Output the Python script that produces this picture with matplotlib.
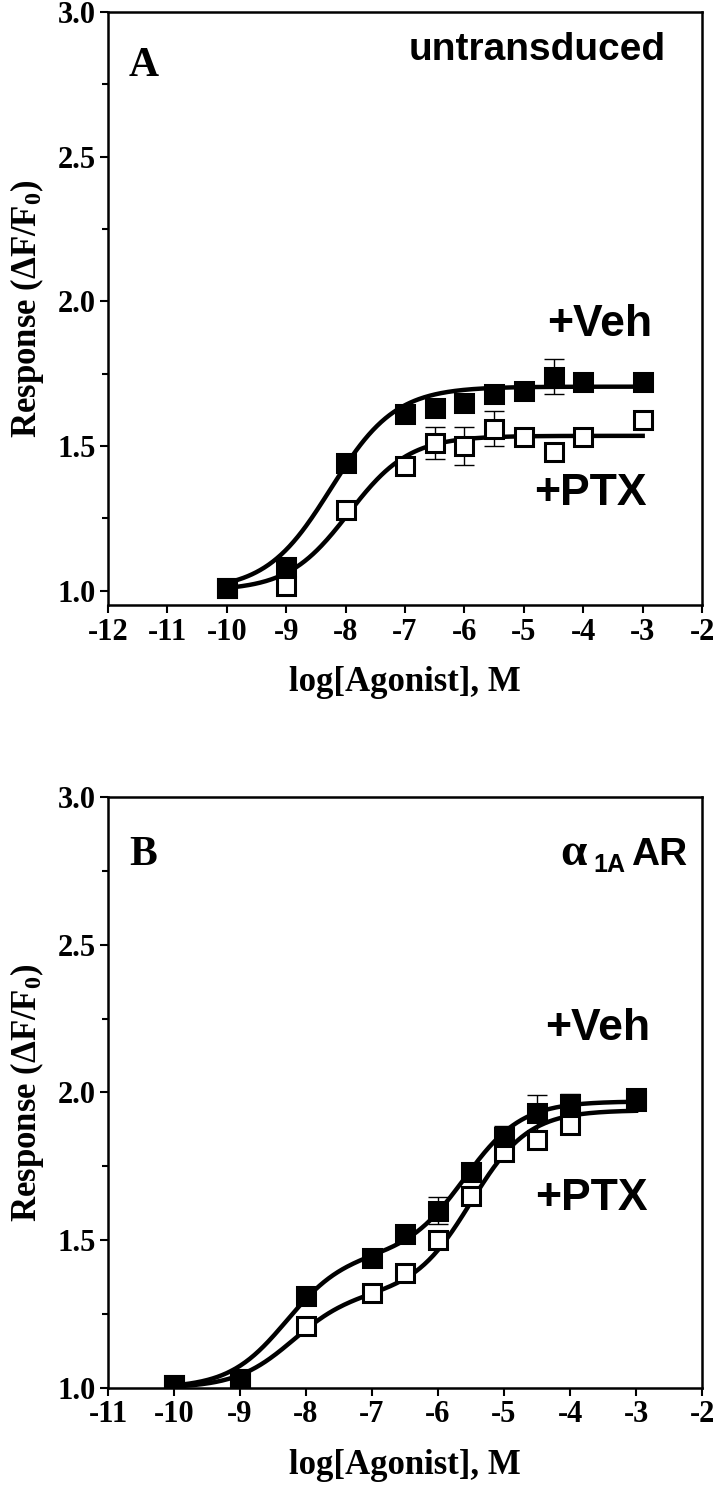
import numpy as np
import matplotlib.pyplot as plt

plt.rcParams['font.family'] = 'Liberation Serif'
plt.rcParams['font.weight'] = 'bold'
plt.rcParams['axes.labelweight'] = 'bold'
plt.rcParams['axes.unicode_minus'] = False
plt.rcParams['mathtext.fontset'] = 'custom'
plt.rcParams['mathtext.rm'] = 'Liberation Serif:bold'
plt.rcParams['mathtext.it'] = 'Liberation Serif:bold'
plt.rcParams['mathtext.bf'] = 'Liberation Serif:bold'

# log[Agonist] doses
dose = [-10, -9, -8, -7, -6.5, -6, -5.5, -5, -4.5, -4, -3]

# panel A - untransduced
veh_a = [1.01, 1.08, 1.44, 1.61, 1.63, 1.65, 1.68, 1.69, 1.74, 1.72, 1.72]
veh_a_err = [0.01, 0.01, 0.01, 0.01, 0.02, 0.02, 0.02, 0.01, 0.06, 0.01, 0.01]
ptx_a = [1.01, 1.015, 1.28, 1.43, 1.51, 1.50, 1.56, 1.53, 1.48, 1.53, 1.59]
ptx_a_err = [0.01, 0.01, 0.01, 0.02, 0.055, 0.065, 0.06, 0.02, 0.02, 0.01, 0.01]

# panel B - alpha1A AR
veh_b = [1.01, 1.03, 1.31, 1.44, 1.52, 1.60, 1.73, 1.85, 1.93, 1.96, 1.97]
veh_b_err = [0.01, 0.01, 0.01, 0.01, 0.01, 0.045, 0.01, 0.035, 0.06, 0.035, 0.02]
ptx_b = [1.01, 1.03, 1.21, 1.32, 1.39, 1.50, 1.65, 1.80, 1.84, 1.89, 1.98]
ptx_b_err = [0.01, 0.01, 0.01, 0.01, 0.01, 0.01, 0.02, 0.03, 0.01, 0.01, 0.02]

# fitted curve parameters
# one site: bottom, top, logEC50, hill
fit_veh_a = [1.0, 1.705, -8.25, 0.8]
fit_ptx_a = [1.0, 1.535, -7.95, 0.85]
# two site: bottom, span1, logEC50_1, span2, logEC50_2
fit_veh_b = [1.0, 0.45, -8.3, 0.52, -5.6]
fit_ptx_b = [1.0, 0.32, -8.2, 0.62, -5.5]


def one_site(x, p):
    b, t, ec, h = p
    return b + (t - b) / (1 + 10 ** (h * (ec - x)))


def two_site(x, p):
    b, s1, e1, s2, e2 = p
    return b + s1 / (1 + 10 ** (e1 - x)) + s2 / (1 + 10 ** (e2 - x))


xs = np.linspace(-10, -3, 300)

fig = plt.figure(figsize=(7.14, 14.87), dpi=100)
ax_a = fig.add_axes([0.1513, 0.5931, 0.832, 0.3988])
ax_b = fig.add_axes([0.1513, 0.0666, 0.832, 0.3974])


def draw(ax, veh, veh_err, ptx, ptx_err, curve_veh, curve_ptx):
    ax.plot(xs, curve_ptx, color='black', lw=3.2, zorder=2)
    ax.plot(xs, curve_veh, color='black', lw=3.2, zorder=2)
    ax.errorbar(dose, ptx, yerr=ptx_err, fmt='none', ecolor='black',
                elinewidth=1, capsize=7, capthick=1, zorder=1)
    ax.errorbar(dose, veh, yerr=veh_err, fmt='none', ecolor='black',
                elinewidth=1, capsize=7, capthick=1, zorder=1)
    ax.plot(dose, ptx, 's', ms=13, mfc='white', mec='black', mew=2.2, zorder=3)
    ax.plot(dose, veh, 's', ms=13, mfc='black', mec='black', mew=2.2, zorder=4)

    for s in ax.spines.values():
        s.set_linewidth(1.8)
    ax.set_yticks([1.0, 1.5, 2.0, 2.5, 3.0])
    ax.set_yticks([1.25, 1.75, 2.25, 2.75], minor=True)
    ax.set_yticklabels(['1.0', '1.5', '2.0', '2.5', '3.0'])
    ax.tick_params(which='major', direction='out', length=6, width=1.5,
                   labelsize=22, pad=3)
    ax.tick_params(which='minor', direction='out', length=4, width=1.5)
    ax.set_xlabel('log[Agonist], M', fontsize=25, labelpad=14)
    ax.set_ylabel('Response ($\\Delta$F/F$_0$)', fontsize=25, labelpad=8)


draw(ax_a, veh_a, veh_a_err, ptx_a, ptx_a_err,
     one_site(xs, fit_veh_a), one_site(xs, fit_ptx_a))
ax_a.set_xlim(-12, -2)
ax_a.set_ylim(0.95, 3.0)
ax_a.set_xticks(range(-12, -1))

draw(ax_b, veh_b, veh_b_err, ptx_b, ptx_b_err,
     two_site(xs, fit_veh_b), two_site(xs, fit_ptx_b))
ax_b.set_xlim(-11, -2)
ax_b.set_ylim(1.0, 3.0)
ax_b.set_xticks(range(-11, -1))

sans = 'Liberation Sans'

# panel A annotations
ax_a.text(-11.4, 2.78, 'A', fontsize=30, ha='center', va='baseline')
ax_a.text(-4.78, 2.87, 'untransduced', family=sans, fontsize=28,
          ha='center', va='center')
ax_a.text(-2.84, 1.92, '+Veh', family=sans, fontsize=32, ha='right', va='center')
ax_a.text(-2.93, 1.335, '+PTX', family=sans, fontsize=32, ha='right', va='center')

# panel B annotations
ax_b.text(-10.47, 2.77, 'B', fontsize=30, ha='center', va='baseline')
ax_b.text(-4.15, 2.77, 'α', fontsize=34, ha='left', va='baseline')
ax_b.text(-3.64, 2.745, '1A', family=sans, fontsize=18, ha='left', va='baseline')
ax_b.text(-3.08, 2.77, 'AR', family=sans, fontsize=28, ha='left', va='baseline')
ax_b.text(-2.79, 2.216, '+Veh', family=sans, fontsize=32, ha='right', va='center')
ax_b.text(-2.83, 1.64, '+PTX', family=sans, fontsize=32, ha='right', va='center')

plt.savefig('out.png', dpi=100)
